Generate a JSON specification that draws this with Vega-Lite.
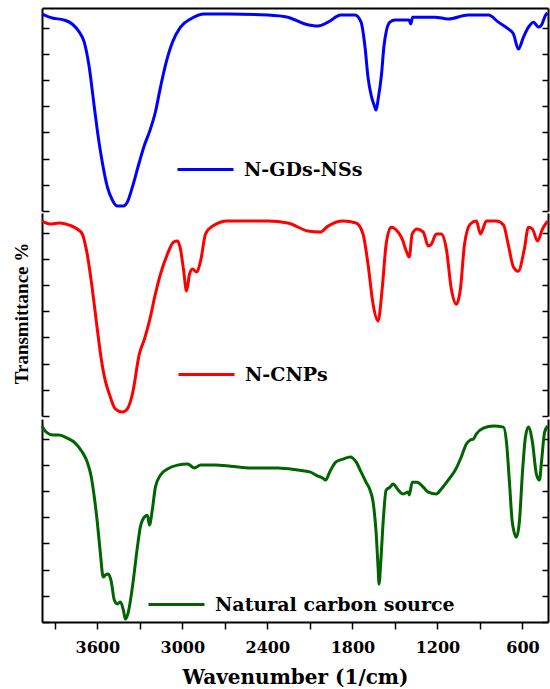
{
  "$schema": "https://vega.github.io/schema/vega-lite/v6.json",
  "padding": {"left": 12, "top": 6, "right": 0, "bottom": 0},
  "spacing": 0,
  "config": {
    "view": {"stroke": null},
    "axis": {"grid": false, "domainColor": "black", "tickColor": "black", "domainWidth": 2, "tickWidth": 1.5}
  },
  "data": {"values": [
    {"sample": "N-GDs-NSs", "wavenumber": 3990, "transmittance": 75.2},
    {"sample": "N-GDs-NSs", "wavenumber": 3918, "transmittance": 73.7},
    {"sample": "N-GDs-NSs", "wavenumber": 3833, "transmittance": 72.9},
    {"sample": "N-GDs-NSs", "wavenumber": 3777, "transmittance": 71.4},
    {"sample": "N-GDs-NSs", "wavenumber": 3727, "transmittance": 68.3},
    {"sample": "N-GDs-NSs", "wavenumber": 3692, "transmittance": 64.5},
    {"sample": "N-GDs-NSs", "wavenumber": 3657, "transmittance": 55.0},
    {"sample": "N-GDs-NSs", "wavenumber": 3621, "transmittance": 39.7},
    {"sample": "N-GDs-NSs", "wavenumber": 3593, "transmittance": 28.2},
    {"sample": "N-GDs-NSs", "wavenumber": 3565, "transmittance": 18.7},
    {"sample": "N-GDs-NSs", "wavenumber": 3529, "transmittance": 9.2},
    {"sample": "N-GDs-NSs", "wavenumber": 3494, "transmittance": 4.2},
    {"sample": "N-GDs-NSs", "wavenumber": 3458, "transmittance": 1.9},
    {"sample": "N-GDs-NSs", "wavenumber": 3416, "transmittance": 1.9},
    {"sample": "N-GDs-NSs", "wavenumber": 3388, "transmittance": 3.4},
    {"sample": "N-GDs-NSs", "wavenumber": 3352, "transmittance": 9.2},
    {"sample": "N-GDs-NSs", "wavenumber": 3303, "transmittance": 18.7},
    {"sample": "N-GDs-NSs", "wavenumber": 3267, "transmittance": 25.2},
    {"sample": "N-GDs-NSs", "wavenumber": 3232, "transmittance": 30.2},
    {"sample": "N-GDs-NSs", "wavenumber": 3190, "transmittance": 37.8},
    {"sample": "N-GDs-NSs", "wavenumber": 3154, "transmittance": 47.3},
    {"sample": "N-GDs-NSs", "wavenumber": 3119, "transmittance": 55.7},
    {"sample": "N-GDs-NSs", "wavenumber": 3069, "transmittance": 64.5},
    {"sample": "N-GDs-NSs", "wavenumber": 3013, "transmittance": 70.2},
    {"sample": "N-GDs-NSs", "wavenumber": 2942, "transmittance": 73.3},
    {"sample": "N-GDs-NSs", "wavenumber": 2843, "transmittance": 75.2},
    {"sample": "N-GDs-NSs", "wavenumber": 2680, "transmittance": 75.2},
    {"sample": "N-GDs-NSs", "wavenumber": 2397, "transmittance": 74.8},
    {"sample": "N-GDs-NSs", "wavenumber": 2256, "transmittance": 74.0},
    {"sample": "N-GDs-NSs", "wavenumber": 2135, "transmittance": 71.4},
    {"sample": "N-GDs-NSs", "wavenumber": 2043, "transmittance": 70.6},
    {"sample": "N-GDs-NSs", "wavenumber": 1972, "transmittance": 72.1},
    {"sample": "N-GDs-NSs", "wavenumber": 1881, "transmittance": 74.8},
    {"sample": "N-GDs-NSs", "wavenumber": 1781, "transmittance": 74.8},
    {"sample": "N-GDs-NSs", "wavenumber": 1739, "transmittance": 72.1},
    {"sample": "N-GDs-NSs", "wavenumber": 1711, "transmittance": 62.6},
    {"sample": "N-GDs-NSs", "wavenumber": 1690, "transmittance": 51.1},
    {"sample": "N-GDs-NSs", "wavenumber": 1667, "transmittance": 44.0},
    {"sample": "N-GDs-NSs", "wavenumber": 1647, "transmittance": 40.5},
    {"sample": "N-GDs-NSs", "wavenumber": 1633, "transmittance": 38.5},
    {"sample": "N-GDs-NSs", "wavenumber": 1619, "transmittance": 42.5},
    {"sample": "N-GDs-NSs", "wavenumber": 1595, "transmittance": 52.0},
    {"sample": "N-GDs-NSs", "wavenumber": 1578, "transmittance": 62.6},
    {"sample": "N-GDs-NSs", "wavenumber": 1559, "transmittance": 69.1},
    {"sample": "N-GDs-NSs", "wavenumber": 1535, "transmittance": 72.1},
    {"sample": "N-GDs-NSs", "wavenumber": 1499, "transmittance": 72.9},
    {"sample": "N-GDs-NSs", "wavenumber": 1400, "transmittance": 72.9},
    {"sample": "N-GDs-NSs", "wavenumber": 1388, "transmittance": 71.4},
    {"sample": "N-GDs-NSs", "wavenumber": 1375, "transmittance": 74.0},
    {"sample": "N-GDs-NSs", "wavenumber": 1216, "transmittance": 74.0},
    {"sample": "N-GDs-NSs", "wavenumber": 1124, "transmittance": 73.3},
    {"sample": "N-GDs-NSs", "wavenumber": 983, "transmittance": 74.8},
    {"sample": "N-GDs-NSs", "wavenumber": 840, "transmittance": 74.8},
    {"sample": "N-GDs-NSs", "wavenumber": 770, "transmittance": 72.1},
    {"sample": "N-GDs-NSs", "wavenumber": 700, "transmittance": 69.5},
    {"sample": "N-GDs-NSs", "wavenumber": 664, "transmittance": 67.6},
    {"sample": "N-GDs-NSs", "wavenumber": 629, "transmittance": 61.8},
    {"sample": "N-GDs-NSs", "wavenumber": 593, "transmittance": 66.4},
    {"sample": "N-GDs-NSs", "wavenumber": 558, "transmittance": 70.2},
    {"sample": "N-GDs-NSs", "wavenumber": 522, "transmittance": 72.1},
    {"sample": "N-GDs-NSs", "wavenumber": 487, "transmittance": 70.2},
    {"sample": "N-GDs-NSs", "wavenumber": 466, "transmittance": 71.0},
    {"sample": "N-GDs-NSs", "wavenumber": 437, "transmittance": 74.8},
    {"sample": "N-GDs-NSs", "wavenumber": 423, "transmittance": 75.6},

    {"sample": "N-CNPs", "wavenumber": 3990, "transmittance": 74.4},
    {"sample": "N-CNPs", "wavenumber": 3932, "transmittance": 73.3},
    {"sample": "N-CNPs", "wavenumber": 3869, "transmittance": 73.7},
    {"sample": "N-CNPs", "wavenumber": 3798, "transmittance": 72.9},
    {"sample": "N-CNPs", "wavenumber": 3742, "transmittance": 71.4},
    {"sample": "N-CNPs", "wavenumber": 3706, "transmittance": 69.5},
    {"sample": "N-CNPs", "wavenumber": 3671, "transmittance": 61.8},
    {"sample": "N-CNPs", "wavenumber": 3635, "transmittance": 48.5},
    {"sample": "N-CNPs", "wavenumber": 3600, "transmittance": 33.2},
    {"sample": "N-CNPs", "wavenumber": 3572, "transmittance": 21.8},
    {"sample": "N-CNPs", "wavenumber": 3543, "transmittance": 13.4},
    {"sample": "N-CNPs", "wavenumber": 3515, "transmittance": 8.4},
    {"sample": "N-CNPs", "wavenumber": 3473, "transmittance": 2.7},
    {"sample": "N-CNPs", "wavenumber": 3423, "transmittance": 1.5},
    {"sample": "N-CNPs", "wavenumber": 3388, "transmittance": 2.7},
    {"sample": "N-CNPs", "wavenumber": 3352, "transmittance": 8.4},
    {"sample": "N-CNPs", "wavenumber": 3303, "transmittance": 23.7},
    {"sample": "N-CNPs", "wavenumber": 3267, "transmittance": 29.4},
    {"sample": "N-CNPs", "wavenumber": 3232, "transmittance": 36.3},
    {"sample": "N-CNPs", "wavenumber": 3190, "transmittance": 46.6},
    {"sample": "N-CNPs", "wavenumber": 3154, "transmittance": 54.2},
    {"sample": "N-CNPs", "wavenumber": 3105, "transmittance": 61.8},
    {"sample": "N-CNPs", "wavenumber": 3062, "transmittance": 66.4},
    {"sample": "N-CNPs", "wavenumber": 3034, "transmittance": 66.8},
    {"sample": "N-CNPs", "wavenumber": 3013, "transmittance": 63.7},
    {"sample": "N-CNPs", "wavenumber": 2992, "transmittance": 56.1},
    {"sample": "N-CNPs", "wavenumber": 2970, "transmittance": 47.7},
    {"sample": "N-CNPs", "wavenumber": 2949, "transmittance": 54.2},
    {"sample": "N-CNPs", "wavenumber": 2928, "transmittance": 56.1},
    {"sample": "N-CNPs", "wavenumber": 2900, "transmittance": 55.0},
    {"sample": "N-CNPs", "wavenumber": 2871, "transmittance": 59.2},
    {"sample": "N-CNPs", "wavenumber": 2836, "transmittance": 69.5},
    {"sample": "N-CNPs", "wavenumber": 2786, "transmittance": 72.5},
    {"sample": "N-CNPs", "wavenumber": 2680, "transmittance": 74.4},
    {"sample": "N-CNPs", "wavenumber": 2397, "transmittance": 74.4},
    {"sample": "N-CNPs", "wavenumber": 2256, "transmittance": 73.7},
    {"sample": "N-CNPs", "wavenumber": 2114, "transmittance": 70.6},
    {"sample": "N-CNPs", "wavenumber": 2029, "transmittance": 70.2},
    {"sample": "N-CNPs", "wavenumber": 1972, "transmittance": 72.5},
    {"sample": "N-CNPs", "wavenumber": 1866, "transmittance": 74.4},
    {"sample": "N-CNPs", "wavenumber": 1774, "transmittance": 73.7},
    {"sample": "N-CNPs", "wavenumber": 1725, "transmittance": 69.5},
    {"sample": "N-CNPs", "wavenumber": 1690, "transmittance": 58.0},
    {"sample": "N-CNPs", "wavenumber": 1654, "transmittance": 42.7},
    {"sample": "N-CNPs", "wavenumber": 1619, "transmittance": 36.3},
    {"sample": "N-CNPs", "wavenumber": 1590, "transmittance": 48.5},
    {"sample": "N-CNPs", "wavenumber": 1562, "transmittance": 65.6},
    {"sample": "N-CNPs", "wavenumber": 1527, "transmittance": 72.1},
    {"sample": "N-CNPs", "wavenumber": 1477, "transmittance": 70.2},
    {"sample": "N-CNPs", "wavenumber": 1449, "transmittance": 67.6},
    {"sample": "N-CNPs", "wavenumber": 1420, "transmittance": 63.0},
    {"sample": "N-CNPs", "wavenumber": 1399, "transmittance": 60.7},
    {"sample": "N-CNPs", "wavenumber": 1378, "transmittance": 69.5},
    {"sample": "N-CNPs", "wavenumber": 1343, "transmittance": 71.4},
    {"sample": "N-CNPs", "wavenumber": 1300, "transmittance": 70.2},
    {"sample": "N-CNPs", "wavenumber": 1265, "transmittance": 64.9},
    {"sample": "N-CNPs", "wavenumber": 1243, "transmittance": 65.6},
    {"sample": "N-CNPs", "wavenumber": 1208, "transmittance": 69.5},
    {"sample": "N-CNPs", "wavenumber": 1173, "transmittance": 69.5},
    {"sample": "N-CNPs", "wavenumber": 1137, "transmittance": 63.7},
    {"sample": "N-CNPs", "wavenumber": 1102, "transmittance": 48.5},
    {"sample": "N-CNPs", "wavenumber": 1066, "transmittance": 42.7},
    {"sample": "N-CNPs", "wavenumber": 1038, "transmittance": 48.5},
    {"sample": "N-CNPs", "wavenumber": 1009, "transmittance": 65.6},
    {"sample": "N-CNPs", "wavenumber": 968, "transmittance": 73.3},
    {"sample": "N-CNPs", "wavenumber": 925, "transmittance": 74.4},
    {"sample": "N-CNPs", "wavenumber": 897, "transmittance": 69.5},
    {"sample": "N-CNPs", "wavenumber": 854, "transmittance": 74.4},
    {"sample": "N-CNPs", "wavenumber": 784, "transmittance": 74.4},
    {"sample": "N-CNPs", "wavenumber": 734, "transmittance": 72.9},
    {"sample": "N-CNPs", "wavenumber": 701, "transmittance": 65.6},
    {"sample": "N-CNPs", "wavenumber": 664, "transmittance": 56.9},
    {"sample": "N-CNPs", "wavenumber": 630, "transmittance": 55.3},
    {"sample": "N-CNPs", "wavenumber": 587, "transmittance": 63.7},
    {"sample": "N-CNPs", "wavenumber": 558, "transmittance": 72.1},
    {"sample": "N-CNPs", "wavenumber": 530, "transmittance": 71.4},
    {"sample": "N-CNPs", "wavenumber": 494, "transmittance": 66.8},
    {"sample": "N-CNPs", "wavenumber": 459, "transmittance": 71.4},
    {"sample": "N-CNPs", "wavenumber": 423, "transmittance": 74.4},

    {"sample": "Natural carbon source", "wavenumber": 3990, "transmittance": 74.8},
    {"sample": "Natural carbon source", "wavenumber": 3960, "transmittance": 72.5},
    {"sample": "Natural carbon source", "wavenumber": 3911, "transmittance": 71.4},
    {"sample": "Natural carbon source", "wavenumber": 3869, "transmittance": 71.4},
    {"sample": "Natural carbon source", "wavenumber": 3812, "transmittance": 70.2},
    {"sample": "Natural carbon source", "wavenumber": 3756, "transmittance": 68.3},
    {"sample": "Natural carbon source", "wavenumber": 3706, "transmittance": 64.9},
    {"sample": "Natural carbon source", "wavenumber": 3671, "transmittance": 61.1},
    {"sample": "Natural carbon source", "wavenumber": 3642, "transmittance": 55.3},
    {"sample": "Natural carbon source", "wavenumber": 3621, "transmittance": 47.7},
    {"sample": "Natural carbon source", "wavenumber": 3600, "transmittance": 38.2},
    {"sample": "Natural carbon source", "wavenumber": 3579, "transmittance": 26.7},
    {"sample": "Natural carbon source", "wavenumber": 3558, "transmittance": 17.2},
    {"sample": "Natural carbon source", "wavenumber": 3543, "transmittance": 17.9},
    {"sample": "Natural carbon source", "wavenumber": 3522, "transmittance": 18.3},
    {"sample": "Natural carbon source", "wavenumber": 3501, "transmittance": 15.3},
    {"sample": "Natural carbon source", "wavenumber": 3480, "transmittance": 8.4},
    {"sample": "Natural carbon source", "wavenumber": 3458, "transmittance": 6.9},
    {"sample": "Natural carbon source", "wavenumber": 3437, "transmittance": 7.6},
    {"sample": "Natural carbon source", "wavenumber": 3416, "transmittance": 4.6},
    {"sample": "Natural carbon source", "wavenumber": 3402, "transmittance": 1.1},
    {"sample": "Natural carbon source", "wavenumber": 3381, "transmittance": 3.8},
    {"sample": "Natural carbon source", "wavenumber": 3352, "transmittance": 13.4},
    {"sample": "Natural carbon source", "wavenumber": 3317, "transmittance": 28.6},
    {"sample": "Natural carbon source", "wavenumber": 3296, "transmittance": 36.3},
    {"sample": "Natural carbon source", "wavenumber": 3267, "transmittance": 40.1},
    {"sample": "Natural carbon source", "wavenumber": 3246, "transmittance": 40.8},
    {"sample": "Natural carbon source", "wavenumber": 3232, "transmittance": 37.0},
    {"sample": "Natural carbon source", "wavenumber": 3211, "transmittance": 43.1},
    {"sample": "Natural carbon source", "wavenumber": 3190, "transmittance": 51.5},
    {"sample": "Natural carbon source", "wavenumber": 3154, "transmittance": 56.1},
    {"sample": "Natural carbon source", "wavenumber": 3105, "transmittance": 58.4},
    {"sample": "Natural carbon source", "wavenumber": 3034, "transmittance": 59.9},
    {"sample": "Natural carbon source", "wavenumber": 2963, "transmittance": 60.3},
    {"sample": "Natural carbon source", "wavenumber": 2914, "transmittance": 58.8},
    {"sample": "Natural carbon source", "wavenumber": 2871, "transmittance": 59.9},
    {"sample": "Natural carbon source", "wavenumber": 2772, "transmittance": 59.9},
    {"sample": "Natural carbon source", "wavenumber": 2659, "transmittance": 59.5},
    {"sample": "Natural carbon source", "wavenumber": 2517, "transmittance": 58.8},
    {"sample": "Natural carbon source", "wavenumber": 2326, "transmittance": 58.8},
    {"sample": "Natural carbon source", "wavenumber": 2185, "transmittance": 58.0},
    {"sample": "Natural carbon source", "wavenumber": 2100, "transmittance": 57.3},
    {"sample": "Natural carbon source", "wavenumber": 2043, "transmittance": 55.7},
    {"sample": "Natural carbon source", "wavenumber": 2010, "transmittance": 55.0},
    {"sample": "Natural carbon source", "wavenumber": 1989, "transmittance": 54.2},
    {"sample": "Natural carbon source", "wavenumber": 1960, "transmittance": 57.3},
    {"sample": "Natural carbon source", "wavenumber": 1916, "transmittance": 61.1},
    {"sample": "Natural carbon source", "wavenumber": 1866, "transmittance": 62.2},
    {"sample": "Natural carbon source", "wavenumber": 1816, "transmittance": 63.0},
    {"sample": "Natural carbon source", "wavenumber": 1774, "transmittance": 61.1},
    {"sample": "Natural carbon source", "wavenumber": 1739, "transmittance": 57.3},
    {"sample": "Natural carbon source", "wavenumber": 1704, "transmittance": 53.4},
    {"sample": "Natural carbon source", "wavenumber": 1676, "transmittance": 50.4},
    {"sample": "Natural carbon source", "wavenumber": 1654, "transmittance": 45.8},
    {"sample": "Natural carbon source", "wavenumber": 1633, "transmittance": 34.4},
    {"sample": "Natural carbon source", "wavenumber": 1619, "transmittance": 21.0},
    {"sample": "Natural carbon source", "wavenumber": 1612, "transmittance": 14.5},
    {"sample": "Natural carbon source", "wavenumber": 1600, "transmittance": 22.9},
    {"sample": "Natural carbon source", "wavenumber": 1583, "transmittance": 38.2},
    {"sample": "Natural carbon source", "wavenumber": 1562, "transmittance": 50.4},
    {"sample": "Natural carbon source", "wavenumber": 1534, "transmittance": 51.5},
    {"sample": "Natural carbon source", "wavenumber": 1513, "transmittance": 52.7},
    {"sample": "Natural carbon source", "wavenumber": 1477, "transmittance": 50.4},
    {"sample": "Natural carbon source", "wavenumber": 1442, "transmittance": 48.9},
    {"sample": "Natural carbon source", "wavenumber": 1406, "transmittance": 49.6},
    {"sample": "Natural carbon source", "wavenumber": 1399, "transmittance": 48.5},
    {"sample": "Natural carbon source", "wavenumber": 1378, "transmittance": 53.4},
    {"sample": "Natural carbon source", "wavenumber": 1343, "transmittance": 53.4},
    {"sample": "Natural carbon source", "wavenumber": 1300, "transmittance": 51.5},
    {"sample": "Natural carbon source", "wavenumber": 1265, "transmittance": 49.6},
    {"sample": "Natural carbon source", "wavenumber": 1208, "transmittance": 48.9},
    {"sample": "Natural carbon source", "wavenumber": 1173, "transmittance": 50.8},
    {"sample": "Natural carbon source", "wavenumber": 1124, "transmittance": 54.2},
    {"sample": "Natural carbon source", "wavenumber": 1074, "transmittance": 58.0},
    {"sample": "Natural carbon source", "wavenumber": 1032, "transmittance": 63.0},
    {"sample": "Natural carbon source", "wavenumber": 997, "transmittance": 67.9},
    {"sample": "Natural carbon source", "wavenumber": 968, "transmittance": 69.5},
    {"sample": "Natural carbon source", "wavenumber": 947, "transmittance": 69.8},
    {"sample": "Natural carbon source", "wavenumber": 925, "transmittance": 71.8},
    {"sample": "Natural carbon source", "wavenumber": 876, "transmittance": 74.0},
    {"sample": "Natural carbon source", "wavenumber": 805, "transmittance": 74.8},
    {"sample": "Natural carbon source", "wavenumber": 734, "transmittance": 74.4},
    {"sample": "Natural carbon source", "wavenumber": 713, "transmittance": 68.7},
    {"sample": "Natural carbon source", "wavenumber": 692, "transmittance": 53.4},
    {"sample": "Natural carbon source", "wavenumber": 672, "transmittance": 38.2},
    {"sample": "Natural carbon source", "wavenumber": 643, "transmittance": 32.4},
    {"sample": "Natural carbon source", "wavenumber": 622, "transmittance": 38.2},
    {"sample": "Natural carbon source", "wavenumber": 600, "transmittance": 57.3},
    {"sample": "Natural carbon source", "wavenumber": 579, "transmittance": 70.6},
    {"sample": "Natural carbon source", "wavenumber": 558, "transmittance": 74.4},
    {"sample": "Natural carbon source", "wavenumber": 530, "transmittance": 68.7},
    {"sample": "Natural carbon source", "wavenumber": 502, "transmittance": 56.5},
    {"sample": "Natural carbon source", "wavenumber": 480, "transmittance": 54.2},
    {"sample": "Natural carbon source", "wavenumber": 466, "transmittance": 61.1},
    {"sample": "Natural carbon source", "wavenumber": 444, "transmittance": 72.5},
    {"sample": "Natural carbon source", "wavenumber": 423, "transmittance": 74.8}
  ]},
  "resolve": {"scale": {"color": "independent"}, "legend": {"color": "independent"}},
  "vconcat": [
    {
      "width": 506, "height": 203,
      "transform": [{"filter": "datum.sample === 'N-GDs-NSs'"}],
      "encoding": {
        "x": {"field": "wavenumber", "type": "quantitative",
              "scale": {"domain": [420, 3990], "reverse": true, "nice": false, "zero": false},
              "axis": {"orient": "top", "ticks": false, "labels": false, "title": null, "domain": true}}
      },
      "layer": [
        {"mark": {"type": "line", "strokeWidth": 3, "interpolate": "monotone"},
         "encoding": {
           "y": {"field": "transmittance", "type": "quantitative",
                 "scale": {"domain": [0, 77.5], "nice": false, "zero": false},
                 "axis": {"orient": "left", "values": [0, 10, 20, 30, 40, 50, 60, 70], "labels": false, "tickSize": -7, "title": null}},
           "color": {"field": "sample", "type": "nominal", "scale": {"range": ["#0000ff"]},
                     "legend": {"orient": "none", "legendX": 134, "legendY": 132, "title": null, "symbolType": "stroke", "symbolSize": 3136, "symbolStrokeWidth": 3, "labelFont": "DejaVu Serif", "labelFontWeight": "bold", "labelFontSize": 19, "labelColor": "black", "labelOffset": 9, "labelLimit": 400, "padding": 0}}
         }},
        {"mark": {"type": "line", "opacity": 0},
         "encoding": {
           "y": {"field": "transmittance", "type": "quantitative",
                 "scale": {"domain": [0, 77.5], "nice": false, "zero": false},
                 "axis": {"orient": "right", "values": [0, 10, 20, 30, 40, 50, 60, 70], "labels": false, "tickSize": -6, "title": null}}
         }}
      ],
      "resolve": {"scale": {"y": "independent"}, "axis": {"y": "independent"}}
    },
    {
      "width": 506, "height": 203,
      "transform": [{"filter": "datum.sample === 'N-CNPs'"}],
      "encoding": {
        "x": {"field": "wavenumber", "type": "quantitative",
              "scale": {"domain": [420, 3990], "reverse": true, "nice": false, "zero": false},
              "axis": null}
      },
      "layer": [
        {"mark": {"type": "line", "strokeWidth": 3, "interpolate": "monotone"},
         "encoding": {
           "y": {"field": "transmittance", "type": "quantitative",
                 "scale": {"domain": [0, 77.5], "nice": false, "zero": false},
                 "axis": {"orient": "left", "values": [0, 10, 20, 30, 40, 50, 60, 70], "labels": false, "tickSize": -7,
                          "title": "Transmittance %", "titleFont": "Liberation Serif", "titleFontSize": 19, "titleFontWeight": "bold", "titleColor": "black", "titlePadding": 10, "titleY": 100}},
           "color": {"field": "sample", "type": "nominal", "scale": {"range": ["#ff0000"]},
                     "legend": {"orient": "none", "legendX": 135, "legendY": 132, "title": null, "symbolType": "stroke", "symbolSize": 3136, "symbolStrokeWidth": 3, "labelFont": "DejaVu Serif", "labelFontWeight": "bold", "labelFontSize": 19, "labelColor": "black", "labelOffset": 9, "labelLimit": 400, "padding": 0}}
         }},
        {"mark": {"type": "line", "opacity": 0},
         "encoding": {
           "y": {"field": "transmittance", "type": "quantitative",
                 "scale": {"domain": [0, 77.5], "nice": false, "zero": false},
                 "axis": {"orient": "right", "values": [0, 10, 20, 30, 40, 50, 60, 70], "labels": false, "tickSize": -6, "title": null}}
         }}
      ],
      "resolve": {"scale": {"y": "independent"}, "axis": {"y": "independent"}}
    },
    {
      "width": 506, "height": 203,
      "transform": [{"filter": "datum.sample === 'Natural carbon source'"}],
      "encoding": {
        "x": {"field": "wavenumber", "type": "quantitative",
              "scale": {"domain": [420, 3990], "reverse": true, "nice": false, "zero": false},
              "axis": {"orient": "bottom", "values": [3900, 3600, 3300, 3000, 2700, 2400, 2100, 1800, 1500, 1200, 900, 600],
                       "labelExpr": "datum.value % 600 === 0 ? datum.label : ''", "format": "d",
                       "tickSize": 7, "labelFont": "DejaVu Serif", "labelFontWeight": "bold", "labelFontSize": 16, "labelColor": "black",
                       "labelPadding": 10, "labelOverlap": false, "labelFlush": false,
                       "title": "Wavenumber (1/cm)", "titleFont": "DejaVu Serif", "titleFontSize": 20, "titleFontWeight": "bold", "titleColor": "black", "titlePadding": 12,
                       "encode": {"ticks": {"update": {"y2": {"signal": "datum.value % 600 === 0 ? 7 : 4"}}}}}}
      },
      "layer": [
        {"mark": {"type": "line", "strokeWidth": 3, "interpolate": "monotone"},
         "encoding": {
           "y": {"field": "transmittance", "type": "quantitative",
                 "scale": {"domain": [0, 77.5], "nice": false, "zero": false},
                 "axis": {"orient": "left", "values": [0, 10, 20, 30, 40, 50, 60, 70], "labels": false, "tickSize": -7, "title": null}},
           "color": {"field": "sample", "type": "nominal", "scale": {"range": ["#006400"]},
                     "legend": {"orient": "none", "legendX": 105, "legendY": 156, "title": null, "symbolType": "stroke", "symbolSize": 3136, "symbolStrokeWidth": 3, "labelFont": "DejaVu Serif", "labelFontWeight": "bold", "labelFontSize": 19, "labelColor": "black", "labelOffset": 9, "labelLimit": 400, "padding": 0}}
         }},
        {"mark": {"type": "line", "opacity": 0},
         "encoding": {
           "y": {"field": "transmittance", "type": "quantitative",
                 "scale": {"domain": [0, 77.5], "nice": false, "zero": false},
                 "axis": {"orient": "right", "values": [0, 10, 20, 30, 40, 50, 60, 70], "labels": false, "tickSize": -6, "title": null}}
         }}
      ],
      "resolve": {"scale": {"y": "independent"}, "axis": {"y": "independent"}}
    }
  ]
}
